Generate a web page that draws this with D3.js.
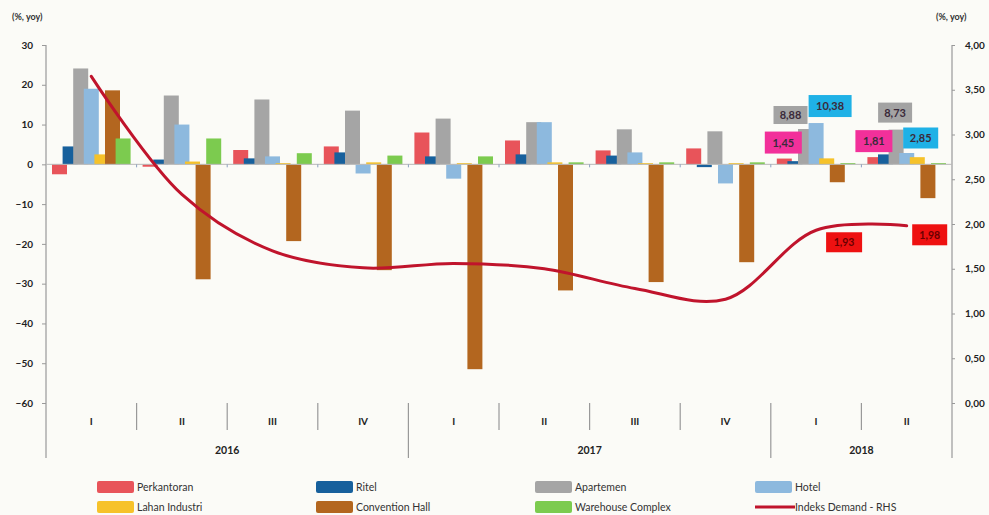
<!DOCTYPE html>
<html>
<head>
<meta charset="utf-8">
<script src="https://cdn.jsdelivr.net/npm/d3@7"></script>
<style>
  html, body { margin: 0; padding: 0; background: #fbfbf7; }
  svg { display: block; font-family: Lato, "Open Sans", sans-serif; }
</style>
</head>
<body>
<svg id="chart" width="989" height="515"></svg>
<script>
// ---------- DATA ----------
const quarters = ["I", "II", "III", "IV", "I", "II", "III", "IV", "I", "II"];
const years = ["2016", "2017", "2018"];
const yearCounts = [4, 4, 2];
const seriesNames = ["Perkantoran", "Ritel", "Apartemen", "Hotel", "Lahan Industri", "Convention Hall", "Warehouse Complex"];
const perkantoran = [-2.5, -0.6, 3.6, 4.5, 8.0, 6.0, 3.5, 4.0, 1.45, 1.81];
const ritel       = [4.5, 1.2, 1.5, 3.0, 2.0, 2.5, 2.2, -0.7, 0.8, 2.5];
const apartemen   = [24.1, 17.3, 16.3, 13.5, 11.5, 10.6, 8.8, 8.3, 8.88, 8.73];
const hotel       = [19.0, 10.0, 2.0, -2.3, -3.6, 10.6, 3.0, -4.8, 10.38, 2.85];
const lahan       = [2.5, 0.7, 0.3, 0.5, 0.3, 0.5, 0.3, 0.3, 1.5, 1.8];
const convention  = [18.6, -28.9, -19.3, -26.6, -51.5, -31.7, -29.6, -24.6, -4.5, -8.5];
const warehouse   = [6.5, 6.5, 2.8, 2.2, 2.0, 0.5, 0.5, 0.5, 0.3, 0.3];
const demandName = "Indeks Demand - RHS";
const demand      = [3.65, 2.33, 1.70, 1.51, 1.56, 1.50, 1.28, 1.16, 1.93, 1.98];
const leftTicks  = [30, 20, 10, 0, -10, -20, -30, -40, -50, -60];
const rightTicks = [4, 3.5, 3, 2.5, 2, 1.5, 1, 0.5, 0];

// ---------- STYLE ----------
const colors = ["#e8545a", "#17609c", "#a5a5a5", "#8db9de", "#f6c22a", "#b3661f", "#7ccb4f"];
const lineColor = "#c0142c";
const seriesValues = [perkantoran, ritel, apartemen, hotel, lahan, convention, warehouse];

// annotation boxes (series index, quarter index, styling + pixel offsets)
const barLabels = [
  { s: 0, q: 8, fill: "#f2309a", dx: -1, dy: -16, w: 37, h: 22 },
  { s: 2, q: 8, fill: "#a3a3a3", dx: -15, dy: -14, w: 34, h: 18 },
  { s: 3, q: 8, fill: "#1fb1e6", dx: 14, dy: -17, w: 43, h: 22 },
  { s: 0, q: 9, fill: "#f2309a", dx: -1, dy: -16, w: 37, h: 22 },
  { s: 2, q: 9, fill: "#a3a3a3", dx: -1, dy: -17, w: 34, h: 20 },
  { s: 3, q: 9, fill: "#1fb1e6", dx: 14, dy: -15, w: 35, h: 21 }
];
const lineLabels = [
  { q: 8, dx: 28, dy: 12, w: 36, h: 20 },
  { q: 9, dx: 23, dy: 9, w: 35, h: 21 }
];

const fmt = v => d3.format(".2f")(v).replace(".", ",");

// ---------- LAYOUT ----------
const svg = d3.select("#chart");
const L = 46, R = 952, T = 45, B = 403;
const barW = 15, inset = 6;

const x0 = d3.scaleBand().domain(d3.range(quarters.length)).range([L, R]).padding(0);
const bw = x0.bandwidth();
const x1 = d3.scalePoint().domain(d3.range(seriesNames.length)).range([inset + barW / 2, bw - inset - barW / 2]);
const y = d3.scaleLinear().domain([-60, 30]).range([B, T]);
const y2 = d3.scaleLinear().domain([0, 4]).range([B, T]);

// axis unit labels
svg.append("text").attr("x", 12).attr("y", 20).attr("font-size", 9).attr("font-weight", "bold").attr("fill", "#333").text("(%, yoy)");
svg.append("text").attr("x", 936).attr("y", 20).attr("font-size", 9).attr("font-weight", "bold").attr("fill", "#333").text("(%, yoy)");

// left axis
const gl = svg.append("g").attr("transform", `translate(${L},0)`)
  .call(d3.axisLeft(y).tickValues(leftTicks).tickSize(4).tickPadding(9).tickFormat(d3.format("d")));
gl.select(".domain").remove();
gl.selectAll(".tick line").attr("stroke", "#999");
gl.selectAll(".tick text").attr("font-size", 10).attr("font-weight", "bold").attr("fill", "#222").attr("font-family", "Lato, sans-serif");
svg.append("line").attr("x1", L).attr("x2", L).attr("y1", T).attr("y2", 458).attr("stroke", "#999").attr("stroke-width", 1.2);

// right axis
const gr = svg.append("g").attr("transform", `translate(${R},0)`)
  .call(d3.axisRight(y2).tickValues(rightTicks).tickSize(3).tickPadding(10).tickFormat(fmt));
gr.select(".domain").remove();
gr.selectAll(".tick line").attr("stroke", "#999");
gr.selectAll(".tick text").attr("font-size", 10).attr("font-weight", "bold").attr("fill", "#222").attr("font-family", "Lato, sans-serif");
svg.append("line").attr("x1", R).attr("x2", R).attr("y1", T).attr("y2", 458).attr("stroke", "#999").attr("stroke-width", 1.2);

// bars (later series drawn on top)
const barsG = svg.append("g");
seriesValues.forEach((vals, s) => {
  barsG.append("g").selectAll("rect").data(vals).join("rect")
    .attr("x", (d, i) => x0(i) + x1(s) - barW / 2)
    .attr("width", barW)
    .attr("y", d => y(Math.max(0, d)))
    .attr("height", d => Math.abs(y(d) - y(0)))
    .attr("fill", colors[s]);
});

// zero line with small ticks at boundaries
svg.append("line").attr("x1", L).attr("x2", R).attr("y1", y(0)).attr("y2", y(0)).attr("stroke", "#b8b8b8").attr("stroke-width", 1);
svg.append("g").selectAll("line").data(d3.range(1, quarters.length)).join("line")
  .attr("x1", i => x0(i)).attr("x2", i => x0(i)).attr("y1", y(0)).attr("y2", y(0) + 3).attr("stroke", "#8aa0c0");

// demand line
const line = d3.line().x((d, i) => x0(i) + bw / 2).y(d => y2(d)).curve(d3.curveCatmullRom.alpha(0.5));
svg.append("path").datum(demand).attr("d", line).attr("fill", "none").attr("stroke", lineColor).attr("stroke-width", 3).attr("stroke-linecap", "round");

// category axis
const yearStarts = [];
let acc = 0;
yearCounts.forEach(c => { yearStarts.push(acc); acc += c; });
svg.append("g").selectAll("line").data(d3.range(1, quarters.length)).join("line")
  .attr("x1", i => x0(i)).attr("x2", i => x0(i))
  .attr("y1", 403)
  .attr("y2", i => yearStarts.includes(i) ? 458 : 430)
  .attr("stroke", "#999").attr("stroke-width", 1.2);
svg.append("g").selectAll("text").data(quarters).join("text")
  .attr("x", (d, i) => x0(i) + bw / 2).attr("y", 425)
  .attr("text-anchor", "middle").attr("font-size", 10).attr("font-weight", "bold").attr("fill", "#222")
  .text(d => d);
svg.append("g").selectAll("text").data(years).join("text")
  .attr("x", (d, k) => (x0(yearStarts[k]) + x0(yearStarts[k] + yearCounts[k] - 1) + bw) / 2)
  .attr("y", 454)
  .attr("text-anchor", "middle").attr("font-size", 10.5).attr("font-weight", "bold").attr("fill", "#222")
  .text(d => d);

// bar value labels
const lg = svg.append("g");
barLabels.forEach(b => {
  const v = seriesValues[b.s][b.q];
  const cx = x0(b.q) + x1(b.s) + b.dx;
  const cy = y(v) + b.dy;
  lg.append("rect").attr("x", cx - b.w / 2).attr("y", cy - b.h / 2).attr("width", b.w).attr("height", b.h).attr("fill", b.fill);
  lg.append("text").attr("x", cx).attr("y", cy + 4).attr("text-anchor", "middle")
    .attr("font-size", 11).attr("font-weight", "bold").attr("fill", "#3a2a3a").text(fmt(v));
});
lineLabels.forEach(b => {
  const v = demand[b.q];
  const cx = x0(b.q) + bw / 2 + b.dx;
  const cy = y2(v) + b.dy;
  lg.append("rect").attr("x", cx - b.w / 2).attr("y", cy - b.h / 2).attr("width", b.w).attr("height", b.h).attr("fill", "#ee1111");
  lg.append("text").attr("x", cx).attr("y", cy + 4).attr("text-anchor", "middle")
    .attr("font-size", 10.5).attr("font-weight", "bold").attr("fill", "#6a0000").text(fmt(v));
});

// legend
const legendItems = seriesNames.map((n, i) => ({ name: n, color: colors[i], type: "bar" }))
  .concat([{ name: demandName, color: lineColor, type: "line" }]);
const colX = [97, 316, 535, 755];
const rowY = [487, 507];
const leg = svg.append("g");
legendItems.forEach((it, i) => {
  const cx = colX[i % 4], cy = rowY[Math.floor(i / 4)];
  if (it.type === "bar") {
    leg.append("rect").attr("x", cx).attr("y", cy - 6).attr("width", 37).attr("height", 12).attr("rx", 2).attr("fill", it.color);
  } else {
    leg.append("line").attr("x1", cx).attr("x2", cx + 40).attr("y1", cy).attr("y2", cy).attr("stroke", it.color).attr("stroke-width", 3);
  }
  leg.append("text").attr("x", cx + 40).attr("y", cy + 4).attr("font-size", 10.5).attr("fill", "#333").text(it.name);
});
</script>
</body>
</html>
